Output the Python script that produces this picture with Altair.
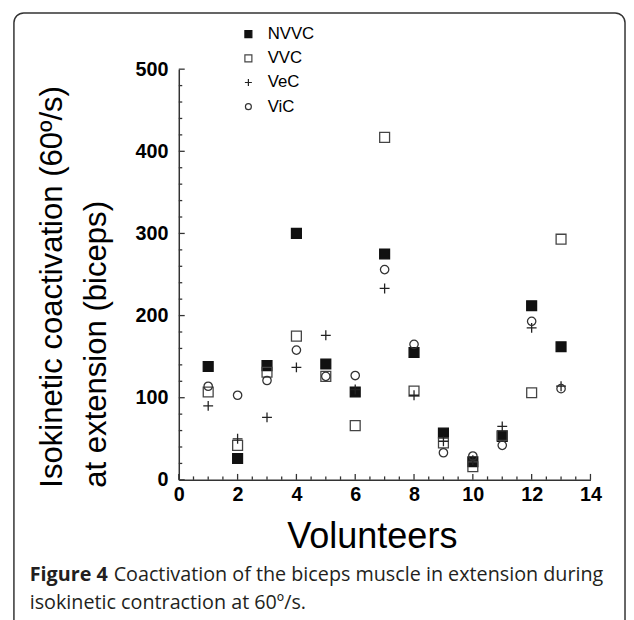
import altair as alt
import pandas as pd

# ---- data ----
volunteers = [1, 2, 3, 4, 5, 6, 7, 8, 9, 10, 11, 12, 13]
nvvc = [138, 26, 139, 300, 141, 107, 275, 155, 57, 22, 53, 212, 162]
vvc = [107, 42, 131, 175, 126, 66, 417, 108, 45, 16, 54, 106, 293]
vec = [90, 50, 76, 137, 176, 110, 233, 103, 47, 24, 65, 185, 114]
vic = [114, 103, 121, 158, 126, 127, 256, 165, 33, 29, 42, 193, 111]
series_names = ["NVVC", "VVC", "VeC", "ViC"]

x_labels = [0, 2, 4, 6, 8, 10, 12, 14]
y_labels = [0, 100, 200, 300, 400, 500]
x_major_ticks = [0, 2, 4, 6, 8, 10, 12, 14]
x_minor_ticks = [0.5, 1, 1.5, 2.5, 3, 3.5, 4.5, 5, 5.5, 6.5, 7, 7.5, 8.5, 9, 9.5,
                 10.5, 11, 11.5, 12.5, 13, 13.5]
y_major_ticks = [0, 100, 200, 300, 400, 500]
y_minor_ticks = [20, 40, 60, 80, 120, 140, 160, 180, 220, 240, 260, 280,
                 320, 340, 360, 380, 420, 440, 460, 480]

y_title_1 = "Isokinetic coactivation (60º/s)"
y_title_2 = "at extension (biceps)"
x_title = "Volunteers"
caption_bold = "Figure 4"
caption_1 = "Coactivation of the biceps muscle in extension during"
caption_2 = "isokinetic contraction at 60º/s."

rows = []
for name, vals in zip(series_names, [nvvc, vvc, vec, vic]):
    for v, val in zip(volunteers, vals):
        rows.append({"volunteer": v, "value": val, "series": name})
df = pd.DataFrame(rows)

W, H = 417, 416
FONT = "Liberation Sans"
CAP_FONT = "Open Sans"

xscale = alt.Scale(domain=[0, 14], nice=False, zero=False)
yscale = alt.Scale(domain=[0, 500], nice=False)

plus_path = "M-1,0L1,0M0,-1L0,1"
circle_path = "M0.85,0A0.85,0.85,0,1,1,-0.85,0A0.85,0.85,0,1,1,0.85,0Z"

points = alt.Chart(df).mark_point(filled=True, size=100, strokeWidth=1.3, opacity=1).encode(
    x=alt.X("volunteer:Q", scale=xscale,
            axis=alt.Axis(values=x_labels, ticks=False, grid=False, title=None,
                          labelFont=FONT, labelFontSize=20, labelFontWeight="bold",
                          labelColor="#000", labelPadding=5, domainColor="#333",
                          domainWidth=1.5, labelFlush=False)),
    y=alt.Y("value:Q", scale=yscale,
            axis=alt.Axis(values=y_labels, ticks=False, grid=False, title=None,
                          labelFont=FONT, labelFontSize=20, labelFontWeight="bold",
                          labelColor="#000", labelPadding=11, domainColor="#333",
                          domainWidth=1.5, labelFlush=False)),
    shape=alt.Shape("series:N",
                    scale=alt.Scale(domain=series_names,
                                    range=["square", "square", plus_path, circle_path]),
                    legend=alt.Legend(title=None, orient="none", legendX=62, legendY=-44,
                                      padding=0, symbolSize=50, symbolStrokeWidth=1.2,
                                      labelFont=FONT, labelFontSize=17, labelColor="#000",
                                      labelOffset=11, rowPadding=6.5)),
    fill=alt.Fill("series:N",
                  scale=alt.Scale(domain=series_names,
                                  range=["#111111", "transparent", "transparent", "transparent"])),
    stroke=alt.Stroke("series:N",
                      scale=alt.Scale(domain=series_names,
                                      range=["#111111", "#444444", "#222222", "#333333"])),
)

xmaj = alt.Chart(pd.DataFrame({"t": x_major_ticks})).mark_rule(color="#333", strokeWidth=1.3).encode(
    x=alt.X("t:Q", scale=xscale), y=alt.value(H), y2=alt.value(H - 6))
xmin = alt.Chart(pd.DataFrame({"t": x_minor_ticks})).mark_rule(color="#333", strokeWidth=1.3).encode(
    x=alt.X("t:Q", scale=xscale), y=alt.value(H), y2=alt.value(H - 3.5))
ymaj = alt.Chart(pd.DataFrame({"t": y_major_ticks})).mark_rule(color="#333", strokeWidth=1.3).encode(
    y=alt.Y("t:Q", scale=yscale), x=alt.value(0), x2=alt.value(6))
ymin = alt.Chart(pd.DataFrame({"t": y_minor_ticks})).mark_rule(color="#333", strokeWidth=1.3).encode(
    y=alt.Y("t:Q", scale=yscale), x=alt.value(0), x2=alt.value(3.5))

one = pd.DataFrame({"a": [0]})

frame = alt.Chart(one).mark_rect(fill="transparent", stroke="#333", strokeWidth=1.5,
                                 cornerRadius=10).encode(
    x=alt.value(-167), x2=alt.value(452), y=alt.value(-57), y2=alt.value(575))

def text(t, x, y, size, weight="normal", angle=0, align="left", font=FONT, color="#000"):
    return alt.Chart(pd.DataFrame({"t": [t]})).mark_text(
        fontSize=size, fontWeight=weight, angle=angle, align=align,
        baseline="alphabetic", font=font, color=color).encode(
        text="t:N", x=alt.value(x), y=alt.value(y))

texts = [
    text(y_title_1, -118, 424, 31.5, angle=270),
    text(y_title_2, -74, 424, 31.5, angle=270),
    text(x_title, 196, 485, 36.5, align="center"),
    text(caption_bold, -151, 518, 20, weight="bold", font=CAP_FONT, color="#231f20"),
    text(caption_1, -66, 518, 20, font=CAP_FONT, color="#231f20"),
    text(caption_2, -151, 547, 20, font=CAP_FONT, color="#231f20"),
]

chart = alt.layer(frame, xmaj, xmin, ymaj, ymin, points, *texts).properties(
    width=W, height=H,
    padding={"left": 173, "top": 58, "right": 36, "bottom": 138},
    autosize=alt.AutoSizeParams(type="none"),
).configure_view(strokeWidth=0)

chart.save("out.html", embed_options={"renderer": "svg", "actions": False})
